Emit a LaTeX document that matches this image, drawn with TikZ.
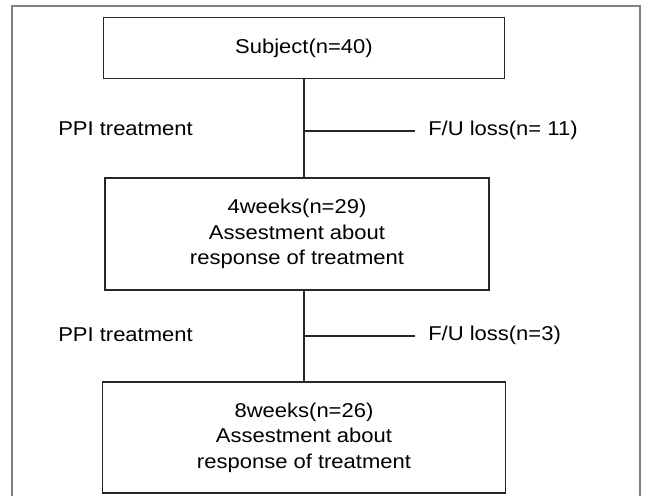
\documentclass[tikz,border=0pt]{standalone}
\usepackage{fontspec}
\setmainfont{Liberation Sans}[FakeStretch=1.1]
\begin{document}
\begin{tikzpicture}[x=0.75pt,y=-0.75pt,
  box/.style={draw=black!85,line width=1.2pt,rectangle,inner sep=0pt,align=center,
    font=\fontsize{15}{19}\selectfont},
  lbl/.style={inner sep=0pt,anchor=west,font=\fontsize{15}{17}\selectfont},
  conn/.style={draw=black!85,line width=1.2pt}]
\useasboundingbox (0,0) rectangle (647,496);
\begin{scope}
\clip (0,0) rectangle (647,496);
\draw[draw=black!50,line width=1.5pt] (12,5.5) rectangle (640,505);
\end{scope}
\node[box,minimum width=301,minimum height=46] (b1) at (304,48) {Subject(n=40)};
\node[box,minimum width=288,minimum height=84] (b2) at (297,234) {4weeks(n=29)\\Assestment about\\response of treatment};
\node[box,minimum width=302,minimum height=83] (b3) at (304,437.5) {8weeks(n=26)\\Assestment about\\response of treatment};
\coordinate (j1) at (304,131);
\coordinate (j2) at (304,336);
\node[lbl] (p1) at (58,129) {PPI treatment};
\node[lbl] (p2) at (58,335) {PPI treatment};
\node[lbl] (f1) at (428,130) {F/U loss(n= 11)};
\node[lbl] (f2) at (428,335) {F/U loss(n=3)};
\draw[conn] (b1.south) -- (b1.south |- b2.north);
\draw[conn] (b1.south |- b2.south) -- (b1.south |- b3.north);
\draw[conn] (j1) -- ([xshift=-10]f1.west |- j1);
\draw[conn] (j2) -- ([xshift=-10]f2.west |- j2);
\end{tikzpicture}
\end{document}
